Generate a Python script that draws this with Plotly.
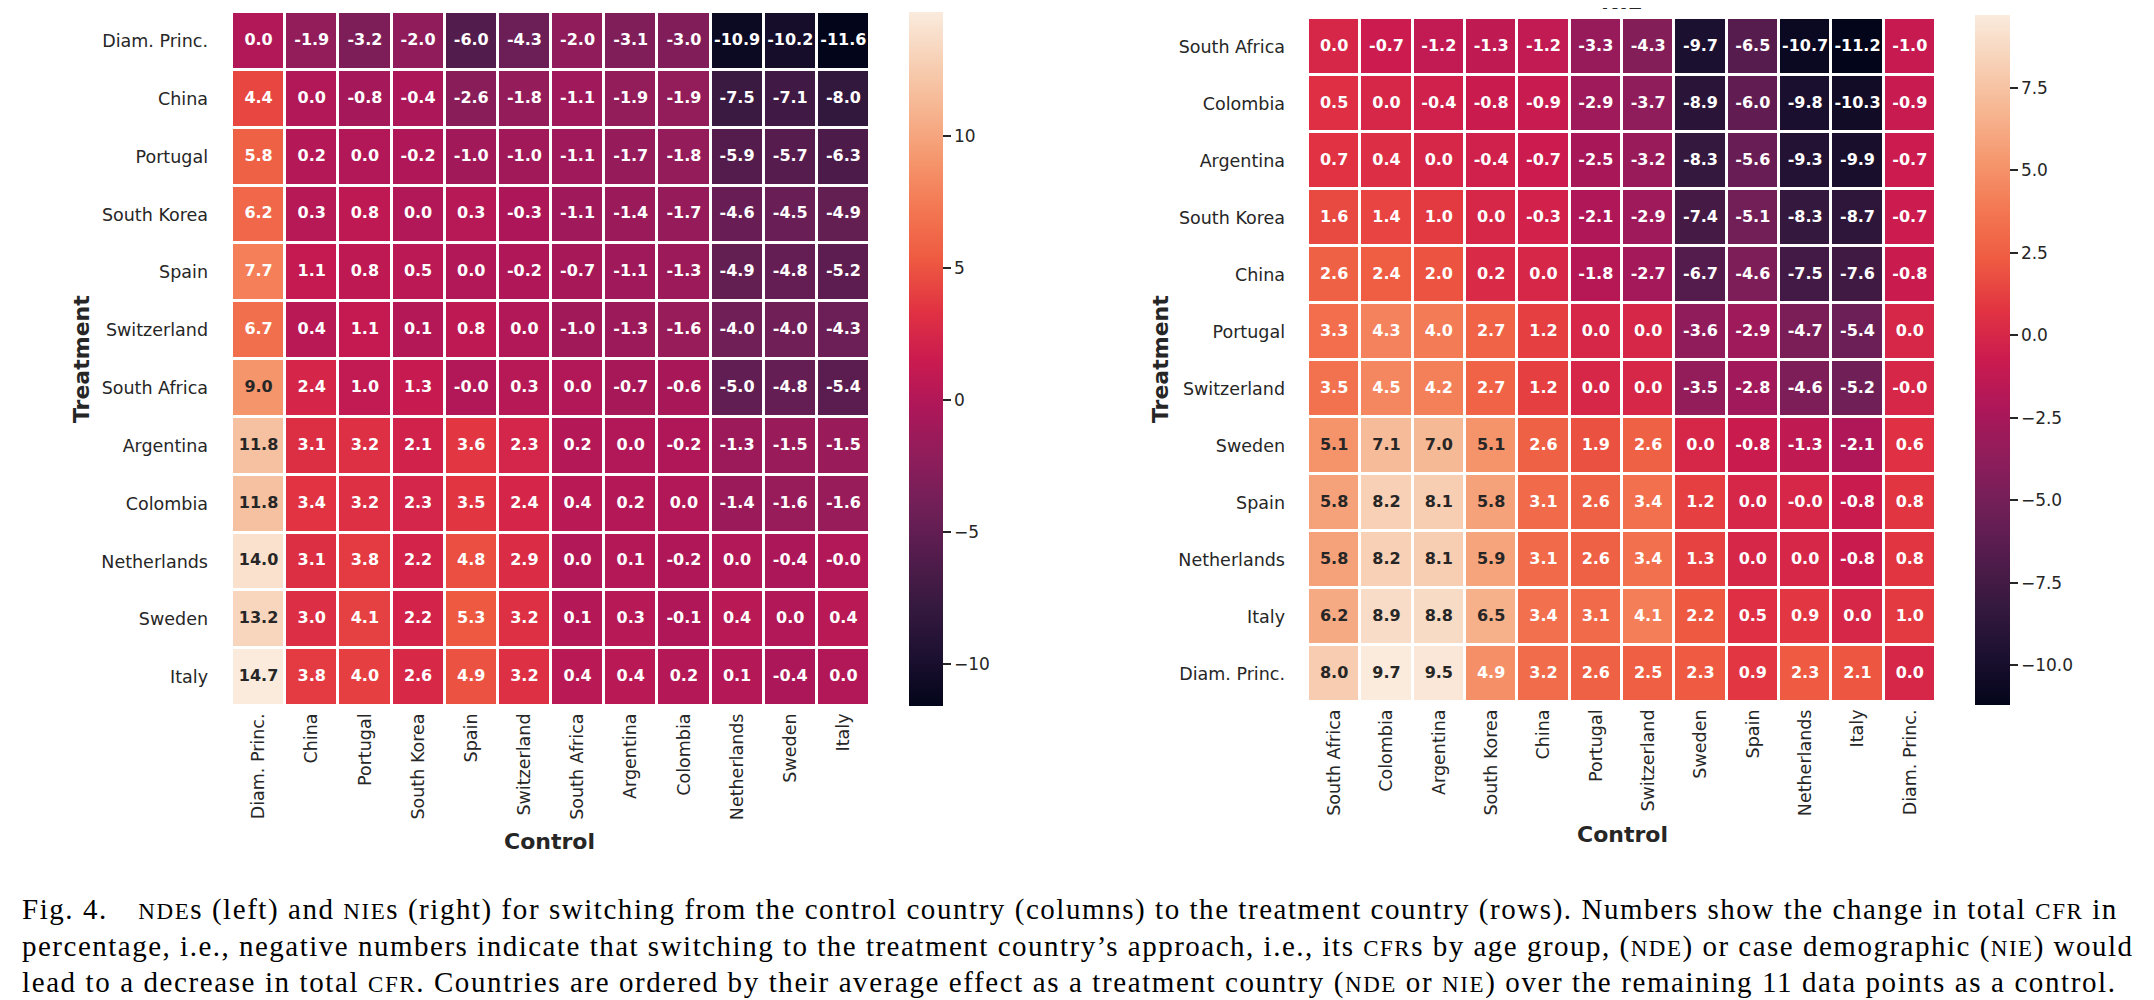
import plotly.graph_objects as go

# ---------------- data ----------------
nde_cols = ["Diam. Princ.", "China", "Portugal", "South Korea", "Spain", "Switzerland",
            "South Africa", "Argentina", "Colombia", "Netherlands", "Sweden", "Italy"]
nde_rows = ["Diam. Princ.", "China", "Portugal", "South Korea", "Spain", "Switzerland",
            "South Africa", "Argentina", "Colombia", "Netherlands", "Sweden", "Italy"]
nde_values = [
    [0.0, -1.9, -3.2, -2.0, -6.0, -4.3, -2.0, -3.1, -3.0, -10.9, -10.2, -11.6],
    [4.4, 0.0, -0.8, -0.4, -2.6, -1.8, -1.1, -1.9, -1.9, -7.5, -7.1, -8.0],
    [5.8, 0.2, 0.0, -0.2, -1.0, -1.0, -1.1, -1.7, -1.8, -5.9, -5.7, -6.3],
    [6.2, 0.3, 0.8, 0.0, 0.3, -0.3, -1.1, -1.4, -1.7, -4.6, -4.5, -4.9],
    [7.7, 1.1, 0.8, 0.5, 0.0, -0.2, -0.7, -1.1, -1.3, -4.9, -4.8, -5.2],
    [6.7, 0.4, 1.1, 0.1, 0.8, 0.0, -1.0, -1.3, -1.6, -4.0, -4.0, -4.3],
    [9.0, 2.4, 1.0, 1.3, -0.0, 0.3, 0.0, -0.7, -0.6, -5.0, -4.8, -5.4],
    [11.8, 3.1, 3.2, 2.1, 3.6, 2.3, 0.2, 0.0, -0.2, -1.3, -1.5, -1.5],
    [11.8, 3.4, 3.2, 2.3, 3.5, 2.4, 0.4, 0.2, 0.0, -1.4, -1.6, -1.6],
    [14.0, 3.1, 3.8, 2.2, 4.8, 2.9, 0.0, 0.1, -0.2, 0.0, -0.4, -0.0],
    [13.2, 3.0, 4.1, 2.2, 5.3, 3.2, 0.1, 0.3, -0.1, 0.4, 0.0, 0.4],
    [14.7, 3.8, 4.0, 2.6, 4.9, 3.2, 0.4, 0.4, 0.2, 0.1, -0.4, 0.0],
]

nie_cols = ["South Africa", "Colombia", "Argentina", "South Korea", "China", "Portugal",
            "Switzerland", "Sweden", "Spain", "Netherlands", "Italy", "Diam. Princ."]
nie_rows = ["South Africa", "Colombia", "Argentina", "South Korea", "China", "Portugal",
            "Switzerland", "Sweden", "Spain", "Netherlands", "Italy", "Diam. Princ."]
nie_values = [
    [0.0, -0.7, -1.2, -1.3, -1.2, -3.3, -4.3, -9.7, -6.5, -10.7, -11.2, -1.0],
    [0.5, 0.0, -0.4, -0.8, -0.9, -2.9, -3.7, -8.9, -6.0, -9.8, -10.3, -0.9],
    [0.7, 0.4, 0.0, -0.4, -0.7, -2.5, -3.2, -8.3, -5.6, -9.3, -9.9, -0.7],
    [1.6, 1.4, 1.0, 0.0, -0.3, -2.1, -2.9, -7.4, -5.1, -8.3, -8.7, -0.7],
    [2.6, 2.4, 2.0, 0.2, 0.0, -1.8, -2.7, -6.7, -4.6, -7.5, -7.6, -0.8],
    [3.3, 4.3, 4.0, 2.7, 1.2, 0.0, 0.0, -3.6, -2.9, -4.7, -5.4, 0.0],
    [3.5, 4.5, 4.2, 2.7, 1.2, 0.0, 0.0, -3.5, -2.8, -4.6, -5.2, -0.0],
    [5.1, 7.1, 7.0, 5.1, 2.6, 1.9, 2.6, 0.0, -0.8, -1.3, -2.1, 0.6],
    [5.8, 8.2, 8.1, 5.8, 3.1, 2.6, 3.4, 1.2, 0.0, -0.0, -0.8, 0.8],
    [5.8, 8.2, 8.1, 5.9, 3.1, 2.6, 3.4, 1.3, 0.0, 0.0, -0.8, 0.8],
    [6.2, 8.9, 8.8, 6.5, 3.4, 3.1, 4.1, 2.2, 0.5, 0.9, 0.0, 1.0],
    [8.0, 9.7, 9.5, 4.9, 3.2, 2.6, 2.5, 2.3, 0.9, 2.3, 2.1, 0.0],
]

nde_ticks = [-10, -5, 0, 5, 10]
nde_ticktext = ["\u221210", "\u22125", "0", "5", "10"]
nie_ticks = [-10.0, -7.5, -5.0, -2.5, 0.0, 2.5, 5.0, 7.5]
nie_ticktext = ["\u221210.0", "\u22127.5", "\u22125.0", "\u22122.5", "0.0", "2.5", "5.0", "7.5"]

# ---------------- style ----------------
W, H = 2154, 1000
DARK = "#262626"
FONT = "DejaVu Sans"

rocket_stops = [
    (0.000, "#03051a"), (0.071, "#1c1030"), (0.143, "#35193e"), (0.214, "#521c4c"),
    (0.286, "#701f57"), (0.357, "#8e1d5b"), (0.429, "#ad1759"), (0.500, "#cb1b4f"),
    (0.571, "#e13342"), (0.643, "#ee5a41"), (0.714, "#f37651"), (0.786, "#f5966d"),
    (0.857, "#f6b48f"), (0.929, "#f7d0b5"), (1.000, "#faebdd"),
]
rocket = [[p, c] for p, c in rocket_stops]


def hex_rgb(h):
    h = h.lstrip("#")
    return [int(h[i:i + 2], 16) / 255 for i in (0, 2, 4)]


def cmap(t):
    t = min(max(t, 0), 1)
    for (p0, c0), (p1, c1) in zip(rocket_stops[:-1], rocket_stops[1:]):
        if p0 <= t <= p1:
            f = (t - p0) / (p1 - p0) if p1 > p0 else 0
            a, b = hex_rgb(c0), hex_rgb(c1)
            return [a[i] + (b[i] - a[i]) * f for i in range(3)]
    return hex_rgb(rocket_stops[-1][1])


def lum(rgb):
    lin = [c / 12.92 if c <= 0.03928 else ((c + 0.055) / 1.055) ** 2.4 for c in rgb]
    return 0.2126 * lin[0] + 0.7152 * lin[1] + 0.0722 * lin[2]


def text_layer(values, cols, rows, xa, ya):
    zmin = min(min(r) for r in values)
    zmax = max(max(r) for r in values)
    xs, ys, ts, cs = [], [], [], []
    for i, r in enumerate(rows):
        for j, c in enumerate(cols):
            v = values[i][j]
            xs.append(c)
            ys.append(r)
            ts.append(f"{v:.1f}")
            col = cmap((v - zmin) / (zmax - zmin))
            cs.append(DARK if lum(col) > 0.408 else "#ffffff")
    return go.Scatter(x=xs, y=ys, text=ts, mode="text", xaxis=xa, yaxis=ya,
                      textfont=dict(family=FONT, size=16, color=cs, weight="bold"),
                      hoverinfo="skip", showlegend=False)


fig = go.Figure()

# left (NDE)
nmin = min(min(r) for r in nde_values)
nmax = max(max(r) for r in nde_values)
fig.add_trace(go.Heatmap(
    x=nde_cols, y=nde_rows, z=nde_values, colorscale=rocket, zmin=nmin, zmax=nmax,
    xgap=3, ygap=3, xaxis="x", yaxis="y", hoverongaps=False,
    colorbar=dict(x=901 / W, xanchor="left", y=1 - 4 / H, yanchor="top",
                  len=694 / H, lenmode="fraction", thickness=34, thicknessmode="pixels",
                  xpad=0, ypad=0, outlinewidth=0, ticks="outside", ticklen=8,
                  tickwidth=1.5, tickcolor=DARK, tickvals=nde_ticks, ticktext=nde_ticktext,
                  tickfont=dict(family=FONT, size=17, color=DARK)),
))
fig.add_trace(text_layer(nde_values, nde_cols, nde_rows, "x", "y"))

# right (NIE)
imin = min(min(r) for r in nie_values)
imax = max(max(r) for r in nie_values)
fig.add_trace(go.Heatmap(
    x=nie_cols, y=nie_rows, z=nie_values, colorscale=rocket, zmin=imin, zmax=imax,
    xgap=3, ygap=3, xaxis="x2", yaxis="y2", hoverongaps=False,
    colorbar=dict(x=1967 / W, xanchor="left", y=1 - 7 / H, yanchor="top",
                  len=690 / H, lenmode="fraction", thickness=35, thicknessmode="pixels",
                  xpad=0, ypad=0, outlinewidth=0, ticks="outside", ticklen=8,
                  tickwidth=1.5, tickcolor=DARK, tickvals=nie_ticks, ticktext=nie_ticktext,
                  tickfont=dict(family=FONT, size=17, color=DARK)),
))
fig.add_trace(text_layer(nie_values, nie_cols, nie_rows, "x2", "y2"))

axis_common = dict(showgrid=False, zeroline=False, showline=False, ticks="",
                   tickfont=dict(family=FONT, size=17.5, color=DARK), type="category")

fig.update_layout(
    width=W, height=H, margin=dict(l=0, r=0, t=0, b=0),
    paper_bgcolor="white", plot_bgcolor="white", showlegend=False,
    xaxis=dict(domain=[224 / W, 862 / W], anchor="y", range=[-0.5, 11.5],
               tickangle=-90, ticklabelstandoff=3, **axis_common),
    yaxis=dict(domain=[1 - 698 / H, 1 - 4 / H], anchor="x", range=[11.5, -0.5],
               ticklabelstandoff=23, **axis_common),
    xaxis2=dict(domain=[1300 / W, 1928 / W], anchor="y2", range=[-0.5, 11.5],
                tickangle=-90, ticklabelstandoff=3, **axis_common),
    yaxis2=dict(domain=[1 - 694 / H, 1 - 10 / H], anchor="x2", range=[11.5, -0.5],
                ticklabelstandoff=22, **axis_common),
)

title_font = dict(family=FONT, size=22, color=DARK, weight="bold")
ann = [
    dict(text="Treatment", x=73 / W, y=1 - 351 / H, textangle=-90, font=title_font),
    dict(text="Treatment", x=1152 / W, y=1 - 351 / H, textangle=-90, font=title_font),
    dict(text="Control", x=541 / W, y=1 - 833 / H, font=title_font),
    dict(text="Control", x=1614 / W, y=1 - 826 / H, font=title_font),
]
for a in ann:
    a.update(xref="paper", yref="paper", showarrow=False, xanchor="center", yanchor="middle")
    fig.add_annotation(**a)

fig.add_annotation(text="NIE", x=1614 / W, y=1 - 8 / H, xref="paper", yref="paper",
                   xanchor="center", yanchor="bottom", showarrow=False, font=title_font)

# caption
def sc(s, ls):
    return f"</span><span style='font-size:23px;letter-spacing:{ls}px'>{s}</span><span style='letter-spacing:{ls}px'>"


cap_spacing = [1.55, 1.5, 1.6]
ls1, ls2, ls3 = cap_spacing
cap_lines = [
    "Fig. 4.\u2003" + sc("NDE", ls1) + "s (left) and " + sc("NIE", ls1) +
    "s (right) for switching from the control country (columns) to the treatment country (rows). "
    "Numbers show the change in total " + sc("CFR", ls1) + " in",
    "percentage, i.e., negative numbers indicate that switching to the treatment country\u2019s approach, "
    "i.e., its " + sc("CFR", ls2) + "s by age group, (" + sc("NDE", ls2) + ") or case demographic ("
    + sc("NIE", ls2) + ") would",
    "lead to a decrease in total " + sc("CFR", ls3) + ". Countries are ordered by their average effect as a "
    "treatment country (" + sc("NDE", ls3) + " or " + sc("NIE", ls3) + ") over the remaining 11 data points as a control.",
]
cap_y = [901, 938, 974]
for t, yy, ls in zip(cap_lines, cap_y, cap_spacing):
    fig.add_annotation(text=f"<span style='letter-spacing:{ls}px'>" + t + "</span>",
                       x=12 / W, y=1 - yy / H, xref="paper", yref="paper",
                       xanchor="left", yanchor="middle", showarrow=False,
                       font=dict(family="Liberation Serif", size=29, color="black"))

fig.write_html("out.html")
